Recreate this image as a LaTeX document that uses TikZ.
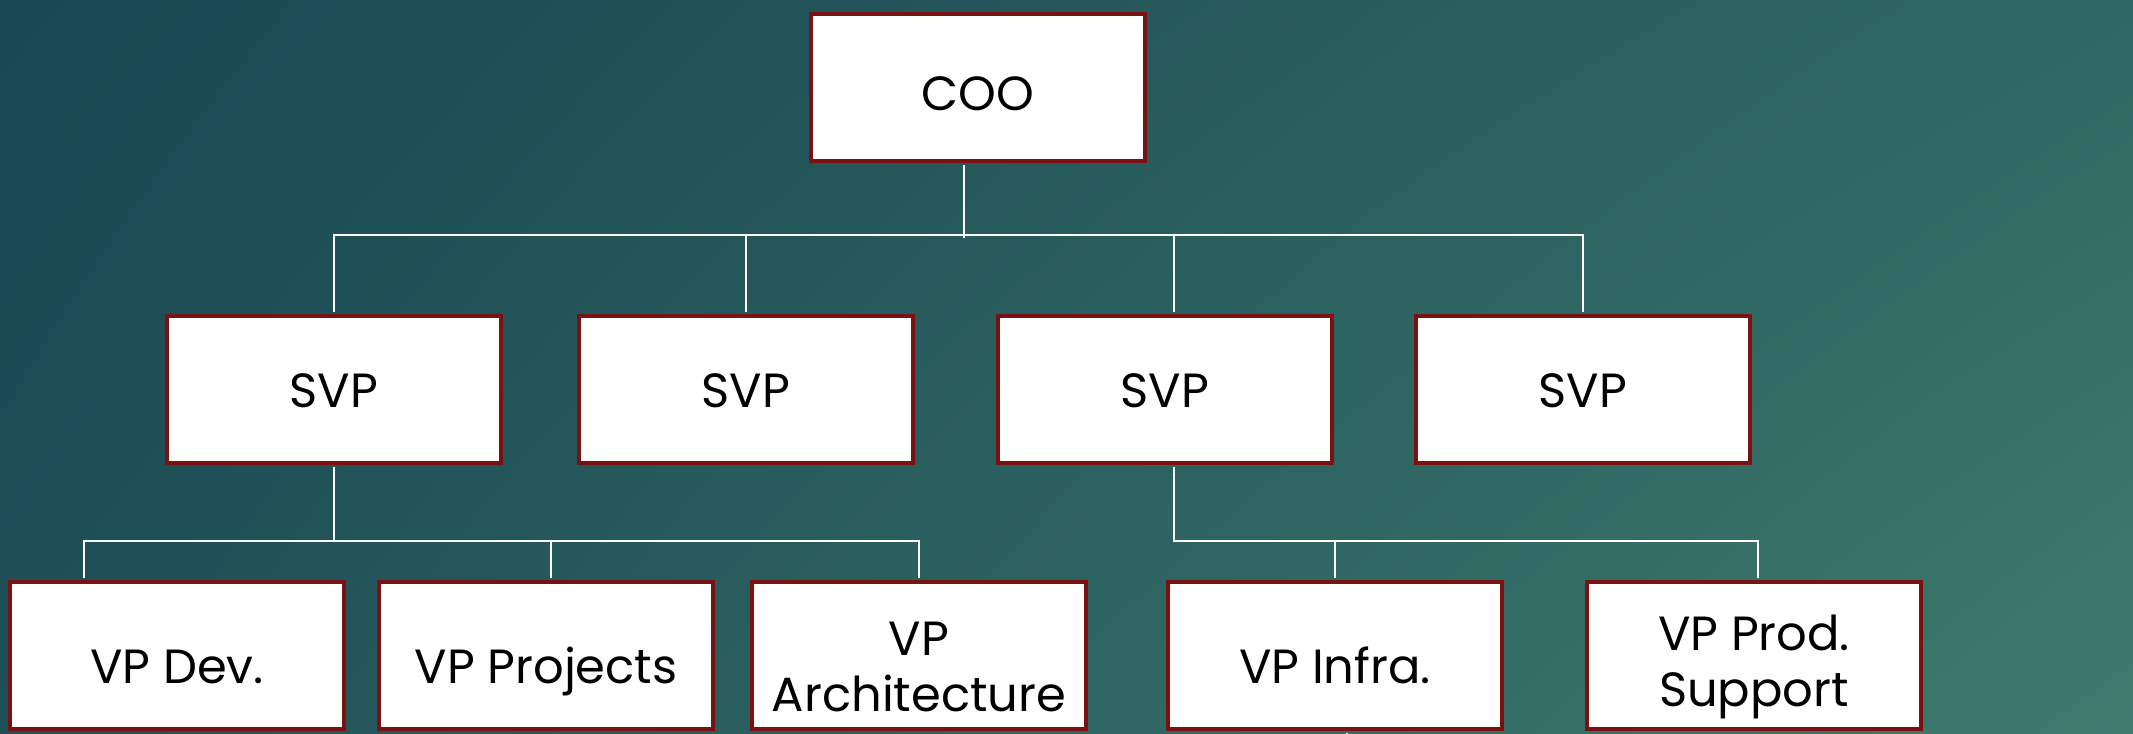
\documentclass[tikz,border=0pt]{standalone}
\usepackage{fontspec}
\setmainfont{Poppins}
\usetikzlibrary{shadings}
\definecolor{bgTL}{HTML}{194752}
\definecolor{bgTR}{HTML}{2F6863}
\definecolor{bgBL}{HTML}{1F4F57}
\definecolor{bgBR}{HTML}{3E7B6D}
\definecolor{boxred}{HTML}{7A1212}
% two centred lines, baseline on the first line
\newcommand{\twolines}[2]{\begin{tabular}[t]{@{}c@{}}#1\\#2\end{tabular}}
\begin{document}
\begin{tikzpicture}[x=0.5pt,y=-0.5pt,
  box/.style={draw=boxred, line width=2pt, fill=white,
    minimum width=167pt, minimum height=73.5pt, inner sep=0pt,
    text=black, font=\fontsize{24}{28}\selectfont},
  toprow/.style={box, text height=22.5pt, text depth=0pt},
  midrow/.style={box, text height=17.5pt, text depth=0pt},
  lowrow/.style={box, text height=28pt, text depth=0pt},
  lowrowtwo/.style={box, text height=14pt, text depth=14pt},
  wire/.style={draw=white, line width=1pt}]

% canvas and background gradient
\useasboundingbox (0,0) rectangle (2133,734);
\shade[upper left=bgTL, upper right=bgTR, lower left=bgBL, lower right=bgBR]
  (0,0) rectangle (2133,734);

% bus heights
\coordinate (busA) at (0,235);
\coordinate (busB) at (0,541);

% top level
\node[toprow] (coo) at (978,87.5) {COO};

% senior vice presidents
\node[midrow] (svp1) at (334,389.5) {SVP};
\node[midrow] (svp2) at (746,389.5) {SVP};
\node[midrow] (svp3) at (1165,389.5) {SVP};
\node[midrow] (svp4) at (1583,389.5) {SVP};

% vice presidents
\node[lowrow] (dev)   at (177,655)  {VP Dev.};
\node[lowrow] (proj)  at (546,655)  {VP Projects};
\node[lowrowtwo] (arch)  at (919,655)  {\twolines{VP}{Architecture}};
\node[lowrow] (infra) at (1335,655) {VP Infra.};
\node[lowrowtwo, text height=12pt, text depth=17pt] (prod) at (1754,655) {\twolines{VP Prod.}{Support}};

% COO to SVPs
\draw[wire] ([xshift=-7pt,yshift=-1pt]coo.south) -- ([xshift=-7pt]coo.south |- 0,238);
\draw[wire] ([yshift=1pt]svp1.north) -- (svp1.north |- busA) -- (svp4.north |- busA) -- ([yshift=1pt]svp4.north);
\draw[wire] ([yshift=1pt]svp2.north) -- (svp2.north |- busA);
\draw[wire] ([xshift=4.5pt,yshift=1pt]svp3.north) -- ([xshift=4.5pt]svp3.north |- busA);

% first SVP to its VPs
\draw[wire] ([yshift=-1pt]svp1.south) -- (svp1.south |- busB);
\draw[wire] ([xshift=-46.5pt,yshift=1pt]dev.north) -- ([xshift=-46.5pt]dev.north |- busB)
  -- (arch.north |- busB) -- ([yshift=1pt]arch.north);
\draw[wire] ([xshift=2.5pt,yshift=1pt]proj.north) -- ([xshift=2.5pt]proj.north |- busB);

% third SVP to its VPs
\draw[wire] ([xshift=4.5pt,yshift=-1pt]svp3.south) -- ([xshift=4.5pt]svp3.south |- busB)
  -- ([xshift=2pt]prod.north |- busB) -- ([xshift=2pt,yshift=1pt]prod.north);
\draw[wire] ([yshift=1pt]infra.north) -- (infra.north |- busB);

% line leaving the bottom of VP Infra.
\coordinate (infraout) at (1347,734);
\draw[wire] ([xshift=6pt,yshift=-1pt]infra.south) -- (infraout);
\end{tikzpicture}
\end{document}
